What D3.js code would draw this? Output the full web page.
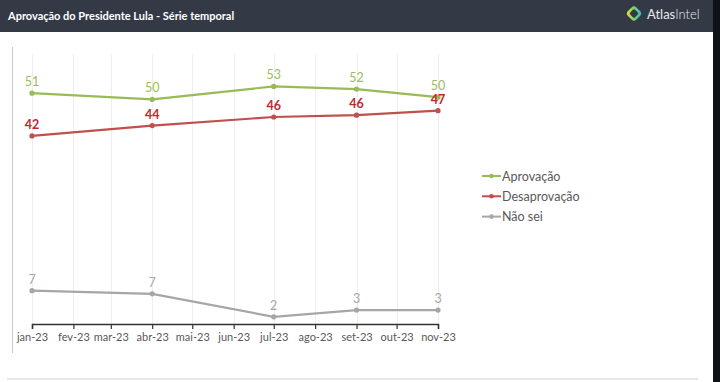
<!DOCTYPE html>
<html><head><meta charset="utf-8">
<script src="https://cdn.jsdelivr.net/npm/d3@7"></script>
<style>
html,body{margin:0;padding:0;background:#fff;}
svg{display:block;font-family:Lato,"Open Sans",sans-serif;}
</style></head>
<body><svg id="c" width="720" height="382"></svg>
<script>
const months = ["2023-01-01","2023-02-01","2023-03-01","2023-04-01","2023-05-01","2023-06-01","2023-07-01","2023-08-01","2023-09-01","2023-10-01","2023-11-01"];
const tickLabels = ["jan-23","fev-23","mar-23","abr-23","mai-23","jun-23","jul-23","ago-23","set-23","out-23","nov-23"];
const dates = ["2023-01-01","2023-04-01","2023-07-01","2023-09-01","2023-11-01"];
const aprovacao = [51.3, 49.9, 52.8, 52.2, 50.4];
const desaprovacao = [41.8, 44.1, 46.0, 46.4, 47.4];
const naoSei = [7.4, 6.7, 1.6, 3.1, 3.1];
const seriesNames = ["Aprovação","Desaprovação","Não sei"];
const title = "Aprovação do Presidente Lula - Série temporal";

const parse = d3.utcParse("%Y-%m-%d");
const svg = d3.select("#c");
const W = 720, H = 382;

// header
svg.append("rect").attr("x",0).attr("y",0).attr("width",W).attr("height",32).attr("fill","#333a46");
svg.append("rect").attr("x",713).attr("y",0).attr("width",7).attr("height",H).attr("fill","#0c1216");
svg.append("text").attr("x",8).attr("y",19.5).attr("fill","#fff").attr("font-size",11).attr("font-weight",700).text(title);

// logo
const defs = svg.append("defs");
const g1 = defs.append("linearGradient").attr("id","lg").attr("x1","100%").attr("y1","0%").attr("x2","0%").attr("y2","100%");
g1.append("stop").attr("offset","0%").attr("stop-color","#2fb3e8");
g1.append("stop").attr("offset","50%").attr("stop-color","#7ccf6a");
g1.append("stop").attr("offset","100%").attr("stop-color","#f2e12a");
svg.append("rect").attr("x",-6).attr("y",-6).attr("width",12).attr("height",12).attr("rx",3.5)
  .attr("transform","translate(634,13.5) rotate(45)").attr("fill","url(#lg)");
svg.append("rect").attr("x",-3.4).attr("y",-3.4).attr("width",6.8).attr("height",6.8).attr("rx",1.5)
  .attr("transform","translate(634,13.5) rotate(45)").attr("fill","#333a46");
svg.append("text").attr("x",647).attr("y",18.5).attr("fill","#e8eaee").attr("font-size",13).text("Atlas")
  .append("tspan").attr("font-weight",300).text("Intel");

// chart area
const x = d3.scaleUtc().domain([parse(months[0]), parse(months[months.length-1])]).range([32, 438]);
const y = d3.scaleLinear().domain([0, 60]).range([324, 54]);

svg.append("line").attr("x1",12.5).attr("x2",12.5).attr("y1",47).attr("y2",353).attr("stroke","#c8c8c8").attr("stroke-width",1);
svg.append("line").attr("x1",7).attr("x2",698).attr("y1",379).attr("y2",379).attr("stroke","#e8e8e8").attr("stroke-width",2);

// gridlines
svg.append("g").selectAll("line").data(months).join("line")
  .attr("x1",d=>Math.round(x(parse(d)))+0.5).attr("x2",d=>Math.round(x(parse(d)))+0.5)
  .attr("y1",y(60)).attr("y2",y(0)).attr("stroke","#eeeeee").attr("stroke-width",1);

// axis
const axis = d3.axisBottom(x).tickValues(months.map(parse)).tickSize(5).tickPadding(4)
  .tickFormat((d,i)=>tickLabels[i]);
const ax = svg.append("g").attr("transform",`translate(0,${y(0)})`).call(axis);
ax.select(".domain").attr("stroke","#333").attr("stroke-width",1.5);
ax.selectAll(".tick line").attr("stroke","#333").attr("stroke-width",1.2);
ax.selectAll(".tick text").attr("fill","#595959").attr("font-size",11).attr("font-family","Lato, sans-serif");

const series = [
  {name: seriesNames[0], values: aprovacao, line:"#98bb55", label:"#9cbd5e", weight:400},
  {name: seriesNames[1], values: desaprovacao, line:"#c0504d", label:"#c0282d", weight:700},
  {name: seriesNames[2], values: naoSei, line:"#a6a6a6", label:"#a6a6a6", weight:400}
];
const lineGen = d3.line().x(d=>x(d.date)).y(d=>y(d.v));
series.forEach(s=>{
  const pts = dates.map((d,i)=>({date:parse(d), v:s.values[i]}));
  const g = svg.append("g");
  g.append("path").datum(pts).attr("d",lineGen).attr("fill","none").attr("stroke",s.line).attr("stroke-width",2.2);
  g.selectAll("circle").data(pts).join("circle").attr("cx",d=>x(d.date)).attr("cy",d=>y(d.v)).attr("r",2.6).attr("fill",s.line);
  g.selectAll("text").data(pts).join("text").attr("x",d=>x(d.date)).attr("y",d=>y(d.v)-7)
    .attr("text-anchor","middle").attr("fill",s.label).attr("font-size",12.5).attr("font-weight",s.weight)
    .text(d=>d3.format(".0f")(d.v));
});

// legend
const lg = svg.append("g").attr("transform","translate(482,176)");
series.forEach((s,i)=>{
  const gi = lg.append("g").attr("transform",`translate(0,${i*20.3})`);
  gi.append("line").attr("x1",0).attr("x2",19).attr("y1",0).attr("y2",0).attr("stroke",s.line).attr("stroke-width",2);
  gi.append("circle").attr("cx",9.5).attr("cy",0).attr("r",2.3).attr("fill",s.line);
  gi.append("text").attr("x",20).attr("y",4.5).attr("fill","#595959").attr("font-size",12.5).text(s.name);
});
</script></body></html>
